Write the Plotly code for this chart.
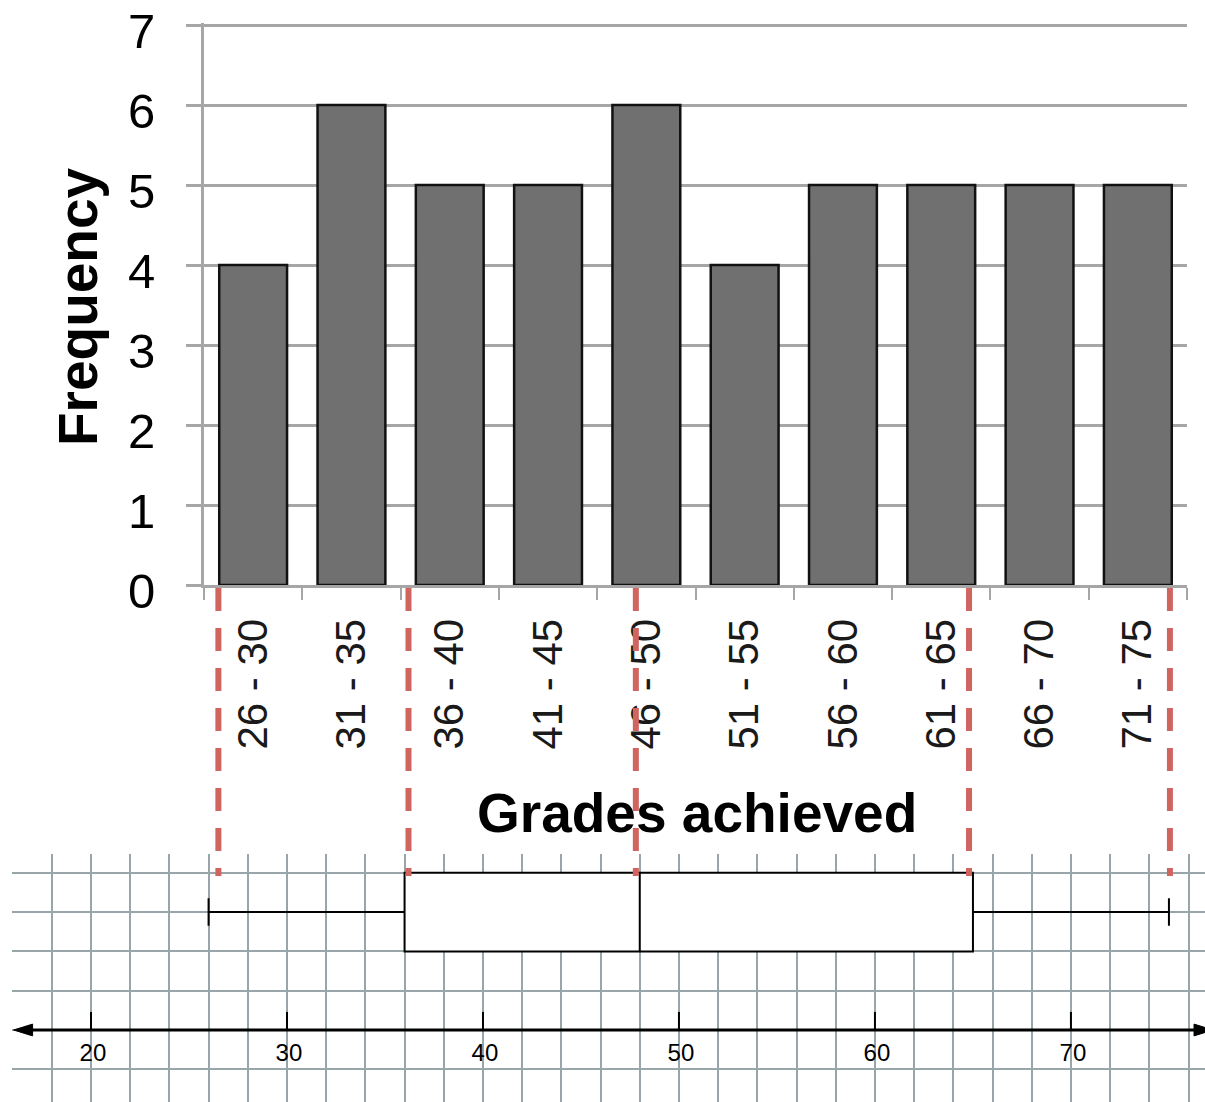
import plotly.graph_objects as go

# ---------------- data ----------------
categories = ["26 - 30", "31 - 35", "36 - 40", "41 - 45", "46 - 50",
              "51 - 55", "56 - 60", "61 - 65", "66 - 70", "71 - 75"]
frequency = [4, 6, 5, 5, 6, 4, 5, 5, 5, 5]

box_min = 26
box_q1 = 36
box_median = 48
box_q3 = 65
box_max = 75

number_line_ticks = [20, 30, 40, 50, 60, 70]
number_line_labels = ["20", "30", "40", "50", "60", "70"]

connector_values = [26.5, 36.2, 47.8, 64.8, 75.05]

# ---------------- layout helpers ----------------
W, H = 1205, 1102
FONT = "Liberation Sans, Arial, Helvetica, sans-serif"


def px_x(p):
    return p / W


def px_y(p):
    return (H - p) / H


GRID_BOX = "#98a6aa"
GRID_BAR = "#a6a6a6"
RED = "#d0645f"

fig = go.Figure()

fig.add_trace(go.Bar(
    x=categories, y=frequency,
    marker=dict(color="#707070", line=dict(color="#111111", width=2.5)),
    xaxis="x", yaxis="y", showlegend=False, hoverinfo="x+y",
))

fig.add_trace(go.Box(
    orientation="h", y=[3],
    q1=[box_q1], median=[box_median], q3=[box_q3],
    lowerfence=[box_min], upperfence=[box_max],
    width=2, whiskerwidth=0.35,
    fillcolor="white", line=dict(color="black", width=2),
    boxpoints=False, xaxis="x2", yaxis="y2", showlegend=False,
))

line_left, line_right = 16.05, 78.0
fig.add_trace(go.Scatter(
    x=[line_left + 0.5, line_right], y=[0, 0], mode="lines",
    line=dict(color="black", width=3), xaxis="x2", yaxis="y2",
    showlegend=False, hoverinfo="skip",
))
arrow_len, arrow_half = 0.97, 0.15
right_tip = 77.25
fig.add_trace(go.Scatter(
    x=[line_left, line_left + arrow_len, line_left + arrow_len, line_left, None,
       right_tip, right_tip - arrow_len, right_tip - arrow_len, right_tip],
    y=[0, arrow_half, -arrow_half, 0, None, 0, arrow_half, -arrow_half, 0],
    mode="lines", fill="toself", fillcolor="black",
    line=dict(color="black", width=1), xaxis="x2", yaxis="y2",
    showlegend=False, hoverinfo="skip",
))
tx, ty = [], []
for t in number_line_ticks:
    tx += [t, t, None]
    ty += [0, 0.46, None]
fig.add_trace(go.Scatter(
    x=tx, y=ty, mode="lines", line=dict(color="black", width=2),
    xaxis="x2", yaxis="y2", showlegend=False, hoverinfo="skip",
))
fig.add_trace(go.Scatter(
    x=[t + 0.1 for t in number_line_ticks], y=[-0.64] * len(number_line_ticks),
    mode="text", text=number_line_labels,
    textfont=dict(family=FONT, size=24, color="black"),
    xaxis="x2", yaxis="y2", showlegend=False, hoverinfo="skip",
))

for v in connector_values:
    fig.add_shape(
        type="line", xref="x2", yref="paper",
        x0=v, x1=v, y0=px_y(588), y1=px_y(876),
        line=dict(color=RED, width=6, dash="23px,17px"), layer="above",
    )

fig.add_annotation(
    text="<b>Frequency</b>", xref="paper", yref="paper",
    x=px_x(78), y=px_y(307), textangle=-90, showarrow=False,
    font=dict(family=FONT, size=55, color="black"),
    xanchor="center", yanchor="middle",
)
fig.add_annotation(
    text="<b>Grades achieved</b>", xref="paper", yref="paper",
    x=px_x(697), y=px_y(813), showarrow=False,
    font=dict(family=FONT, size=55, color="black"),
    xanchor="center", yanchor="middle",
)

Y_TOP = 7.02

fig.update_layout(
    width=W, height=H, autosize=False,
    margin=dict(l=0, r=0, t=0, b=0, pad=0, autoexpand=False),
    paper_bgcolor="white", plot_bgcolor="white",
    bargap=0.31, showlegend=False,
    font=dict(family=FONT, color="black"),
    xaxis=dict(
        domain=[px_x(204), px_x(1187)], anchor="y", automargin=False,
        type="category", tickson="boundaries",
        ticks="outside", ticklen=12, tickwidth=2, tickcolor=GRID_BAR,
        showline=True, linecolor=GRID_BAR, linewidth=3,
        showgrid=False, tickangle=-90,
        tickfont=dict(family=FONT, size=42, color="#1a1a1a"),
        ticklabelstandoff=14,
    ),
    yaxis=dict(
        domain=[px_y(585), px_y(585 - 80 * Y_TOP)], anchor="x", automargin=False,
        range=[0, Y_TOP], dtick=1, tick0=0,
        showgrid=True, gridcolor=GRID_BAR, gridwidth=3,
        ticks="outside", ticklen=15, tickwidth=3, tickcolor=GRID_BAR,
        showline=True, linecolor=GRID_BAR, linewidth=3,
        zeroline=False, ticklabeloverflow="allow",
        tickfont=dict(family=FONT, size=49, color="black"),
        ticklabelstandoff=21, ticklabelshift=6,
    ),
    xaxis2=dict(
        domain=[px_x(12), 1], anchor="y2", automargin=False,
        range=[15.97, 76.84], dtick=2, tick0=0,
        showgrid=True, gridcolor=GRID_BOX, gridwidth=2,
        showticklabels=False, ticks="", zeroline=False, showline=False,
    ),
    yaxis2=dict(
        domain=[0, px_y(854)], anchor="x2", automargin=False,
        range=[-1.832, 4.478], dtick=1, tick0=0,
        showgrid=True, gridcolor=GRID_BOX, gridwidth=2,
        showticklabels=False, ticks="", zeroline=False, showline=False,
    ),
)

fig.write_html(
    "out.html",
    config={"displayModeBar": False, "responsive": False},
    post_script="document.documentElement.style.margin='0';document.body.style.margin='0';",
)
